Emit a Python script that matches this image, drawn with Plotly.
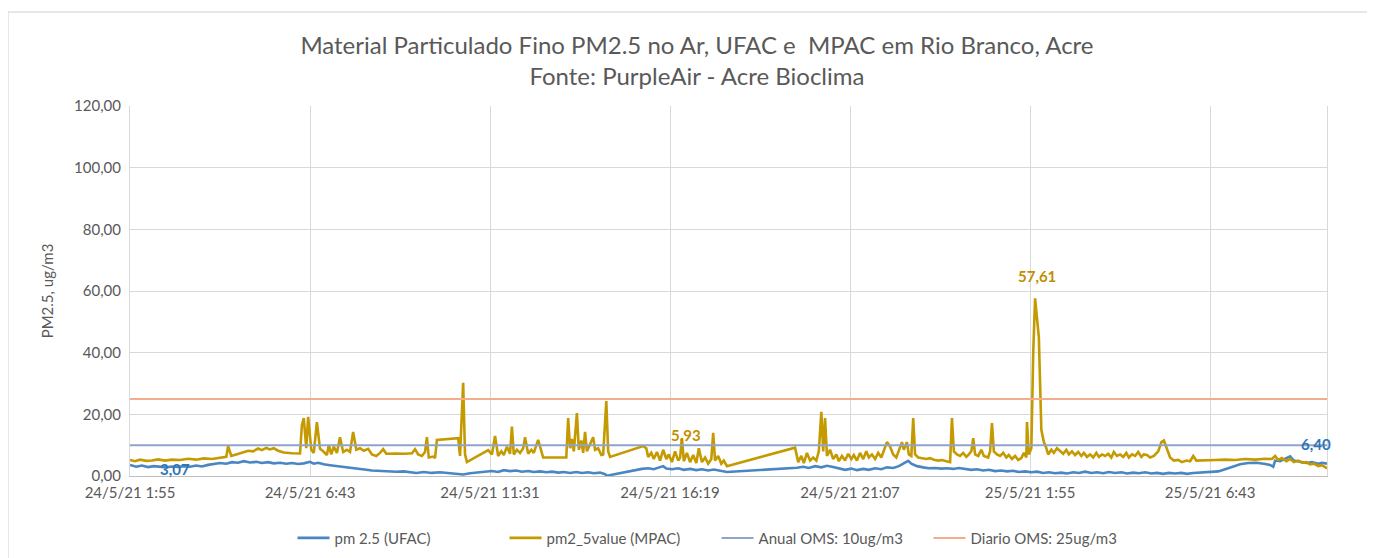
import pandas as pd
import plotly.graph_objects as go

# ---------------- data ----------------
start_time = "2021-05-24 01:55"

# pm2_5value (MPAC): minutes after start, value (ug/m3)
mpac_min = [0, 8, 16, 26, 35, 45, 56, 67, 80, 93, 106, 118, 131, 144, 154, 157, 162, 170, 179, 189,
            197, 205, 211, 218, 224, 230, 237, 246, 259, 272, 275, 278, 282, 285, 290, 294, 299, 304, 309, 315,
            318, 322, 326, 331, 336, 341, 347, 352, 357, 362, 368, 374, 381, 387, 394, 400, 405, 410, 424, 440,
            451, 456, 461, 467, 472, 475, 478, 485, 488, 491, 525, 528, 533, 536, 539, 573, 579, 584, 589, 594,
            598, 603, 608, 611, 614, 619, 624, 629, 632, 637, 642, 646, 653, 658, 661, 698, 701, 704, 707, 710,
            715, 718, 722, 725, 728, 731, 736, 741, 744, 749, 754, 757, 762, 765, 768, 821, 826, 829, 834, 838,
            843, 848, 853, 858, 862, 867, 872, 877, 880, 883, 886, 891, 896, 901, 906, 910, 915, 920, 925, 930,
            933, 936, 941, 946, 950, 955, 1064, 1069, 1074, 1078, 1083, 1088, 1093, 1098, 1102, 1106, 1109, 1112, 1115, 1120,
            1125, 1130, 1134, 1139, 1144, 1149, 1154, 1158, 1163, 1168, 1173, 1178, 1182, 1187, 1192, 1197, 1202, 1206, 1211, 1216,
            1221, 1226, 1230, 1235, 1238, 1243, 1246, 1250, 1253, 1256, 1261, 1267, 1274, 1280, 1286, 1293, 1299, 1306, 1312, 1315,
            1318, 1323, 1328, 1333, 1338, 1342, 1346, 1349, 1352, 1357, 1362, 1366, 1373, 1376, 1379, 1382, 1387, 1392, 1397, 1402,
            1406, 1411, 1416, 1421, 1426, 1430, 1434, 1435, 1438, 1442, 1445, 1448, 1451, 1454, 1458, 1462, 1466, 1469, 1474, 1478,
            1483, 1488, 1493, 1498, 1502, 1507, 1512, 1517, 1522, 1526, 1531, 1536, 1541, 1546, 1550, 1555, 1560, 1565, 1570, 1574,
            1579, 1584, 1589, 1594, 1598, 1603, 1608, 1613, 1618, 1622, 1627, 1632, 1638, 1645, 1650, 1654, 1659, 1664, 1670, 1677,
            1683, 1690, 1696, 1701, 1706, 1720, 1736, 1752, 1768, 1784, 1800, 1816, 1827, 1832, 1837, 1843, 1850, 1856, 1862, 1869,
            1875, 1882, 1888, 1894, 1901, 1907, 1915]
mpac_val = [5.2, 4.8, 5.3, 4.9, 5.0, 5.4, 5.0, 5.3, 5.2, 5.6, 5.3, 5.7, 5.5, 5.9, 6.2, 9.7, 6.5, 7.0, 7.5, 8.2,
            8.0, 8.9, 8.4, 9.1, 8.6, 9.0, 8.2, 7.6, 7.4, 7.3, 16.5, 18.8, 9.0, 19.2, 8.5, 7.5, 17.5, 8.8, 8.0, 6.8,
            10.0, 7.0, 9.5, 7.5, 12.6, 7.8, 8.5, 7.8, 14.3, 8.5, 9.0, 8.2, 8.8, 7.0, 6.5, 7.5, 8.7, 7.2, 7.3, 7.2,
            7.4, 8.7, 7.0, 6.5, 7.8, 12.6, 6.0, 6.3, 5.8, 11.7, 12.3, 6.5, 30.2, 7.0, 4.5, 8.4, 7.0, 13.0, 6.5, 8.0,
            6.8, 9.5, 7.2, 16.0, 7.0, 8.5, 7.5, 9.0, 12.6, 7.2, 8.5, 7.5, 11.7, 8.0, 6.0, 6.0, 18.8, 9.0, 12.0, 8.0,
            20.4, 8.5, 11.5, 7.5, 14.3, 8.0, 10.5, 12.6, 8.5, 9.0, 6.8, 7.0, 24.3, 8.0, 6.2, 9.7, 9.0, 6.2, 7.5, 5.5,
            7.8, 5.0, 8.5, 5.5, 7.0, 4.5, 8.0, 5.0, 5.93, 12.3, 4.8, 7.5, 4.5, 6.8, 4.2, 9.0, 4.5, 6.0, 4.0, 5.5,
            14.0, 5.0, 6.5, 4.0, 5.0, 3.2, 9.2, 4.5, 6.5, 4.2, 7.5, 5.0, 6.0, 5.0, 8.0, 20.8, 8.0, 18.8, 6.5, 8.5,
            5.5, 7.0, 4.8, 6.5, 5.0, 7.2, 5.5, 6.8, 5.0, 7.5, 5.5, 8.0, 6.0, 7.0, 5.5, 7.5, 6.0, 8.0, 11.0, 9.5,
            7.0, 6.0, 8.0, 11.0, 8.5, 11.0, 7.0, 6.5, 18.8, 7.0, 6.0, 5.8, 5.5, 5.8, 5.3, 5.0, 5.2, 4.8, 4.5, 18.8,
            8.0, 7.0, 6.5, 7.5, 6.2, 7.0, 8.0, 12.3, 7.0, 6.5, 8.5, 6.5, 6.0, 8.0, 17.2, 8.0, 7.0, 6.5, 7.5, 6.0,
            6.8, 5.5, 6.5, 5.2, 5.8, 7.5, 6.0, 17.5, 7.0, 9.0, 40.0, 57.61, 50.0, 45.0, 15.0, 11.0, 9.0, 7.0, 8.5, 7.5,
            9.0, 8.0, 7.2, 8.5, 7.0, 8.0, 6.8, 7.8, 6.5, 7.5, 6.2, 7.0, 6.0, 7.5, 6.2, 7.0, 6.5, 7.2, 6.0, 7.8,
            6.5, 7.0, 6.2, 7.5, 6.0, 7.0, 6.5, 7.8, 6.2, 7.0, 6.8, 6.0, 6.5, 8.0, 11.0, 11.5, 9.0, 6.0, 5.0, 5.2,
            4.5, 5.0, 4.8, 6.5, 5.0, 5.0, 5.2, 5.3, 5.2, 5.5, 5.3, 5.6, 5.5, 6.5, 5.2, 5.8, 4.8, 5.5, 4.5, 5.0,
            4.3, 4.5, 3.8, 4.0, 3.2, 3.5, 2.5]

# pm 2.5 (UFAC): minutes after start, value (ug/m3)
ufac_min = [0, 10, 19, 29, 38, 48, 58, 67, 77, 86, 96, 106, 115, 125, 134, 144, 154, 163, 173, 182,
            192, 202, 211, 221, 230, 240, 250, 259, 269, 278, 288, 294, 301, 310, 320, 330, 339, 349, 358, 368,
            378, 387, 400, 413, 426, 438, 448, 458, 470, 483, 496, 509, 522, 533, 544, 557, 570, 579, 589, 598,
            608, 618, 627, 637, 646, 656, 666, 675, 685, 694, 704, 714, 723, 733, 742, 752, 760, 763, 819, 829,
            838, 848, 853, 858, 867, 877, 886, 896, 906, 915, 925, 934, 944, 955, 1067, 1077, 1086, 1096, 1106, 1115,
            1125, 1134, 1144, 1154, 1163, 1173, 1182, 1192, 1202, 1211, 1221, 1230, 1240, 1245, 1250, 1259, 1269, 1278, 1288, 1298,
            1307, 1317, 1326, 1336, 1346, 1355, 1365, 1374, 1384, 1394, 1403, 1413, 1422, 1432, 1442, 1451, 1461, 1470, 1480, 1490,
            1499, 1509, 1518, 1528, 1538, 1547, 1557, 1566, 1576, 1586, 1595, 1605, 1614, 1624, 1634, 1643, 1653, 1662, 1672, 1682,
            1691, 1701, 1712, 1728, 1741, 1752, 1763, 1776, 1789, 1802, 1814, 1824, 1829, 1832, 1840, 1848, 1856, 1862, 1872, 1882,
            1891, 1901, 1907, 1915]
ufac_val = [3.6, 3.0, 3.4, 2.9, 3.2, 3.07, 2.8, 3.1, 2.9, 3.2, 3.0, 3.4, 3.1, 3.6, 3.8, 4.2, 4.0, 4.5, 4.3, 4.8,
            4.4, 4.6, 4.2, 4.5, 4.1, 4.3, 4.0, 4.2, 3.9, 4.1, 4.6, 4.0, 4.3, 3.8, 3.5, 3.2, 3.0, 2.7, 2.5, 2.3,
            2.0, 1.8, 1.6, 1.5, 1.4, 1.5, 1.2, 1.0, 1.3, 1.0, 1.2, 0.9, 0.8, 0.5, 0.9, 1.1, 1.4, 1.6, 1.3, 1.9,
            1.6, 1.8, 1.4, 1.6, 1.3, 1.5, 1.2, 1.4, 1.1, 1.3, 1.0, 1.3, 1.0, 1.2, 0.9, 1.1, 0.6, 0.1, 2.3, 2.5,
            2.2, 2.8, 3.2, 2.4, 2.2, 2.5, 2.0, 2.3, 1.9, 2.2, 1.8, 2.1, 1.7, 1.3, 2.7, 3.0, 2.6, 3.2, 2.8, 3.3,
            2.9, 2.5, 2.0, 2.4, 1.9, 2.3, 2.0, 2.5, 2.2, 2.8, 2.6, 3.2, 4.2, 4.9, 4.0, 3.2, 2.8, 2.5, 2.6, 2.4,
            2.5, 2.3, 2.6, 2.2, 2.0, 2.2, 1.8, 2.0, 1.6, 1.8, 1.5, 1.7, 1.3, 1.5, 1.2, 1.4, 1.0, 1.2, 0.9, 1.1,
            0.8, 1.2, 1.0, 1.4, 1.0, 1.2, 0.9, 1.3, 1.0, 1.2, 0.8, 1.1, 0.9, 1.2, 0.8, 1.0, 0.7, 1.0, 0.8, 1.0,
            0.7, 1.0, 1.1, 1.2, 1.5, 2.2, 3.0, 3.8, 4.2, 4.3, 4.0, 3.6, 3.0, 5.0, 4.8, 5.5, 6.40, 5.0, 4.6, 4.2,
            4.5, 4.0, 4.3, 4.0]

anual_oms = 10
diario_oms = 25

tick_times = ["2021-05-24 01:55", "2021-05-24 06:43", "2021-05-24 11:31", "2021-05-24 16:19",
              "2021-05-24 21:07", "2021-05-25 01:55", "2021-05-25 06:43"]
tick_labels = ["24/5/21 1:55", "24/5/21 6:43", "24/5/21 11:31", "24/5/21 16:19",
               "24/5/21 21:07", "25/5/21 1:55", "25/5/21 6:43"]
end_minutes = 1915

# labelled points: (series, minute of the point)
labels = [("ufac", 48), ("mpac", 880), ("mpac", 1448), ("ufac", 1856)]

# ---------------- build ----------------
base = pd.Timestamp(start_time)
mpac_x = base + pd.to_timedelta(mpac_min, unit="min")
ufac_x = base + pd.to_timedelta(ufac_min, unit="min")
x_end = base + pd.Timedelta(minutes=end_minutes)

BLUE = "#4A86C2"
GOLD = "#C49A00"
ANUAL = "#8FA3CC"
DIARIO = "#F2AE8C"
TXT = "#595959"
FONT = "Lato"

fig = go.Figure()
fig.add_trace(go.Scatter(x=ufac_x, y=ufac_val, mode="lines", name="pm 2.5 (UFAC)",
                         line=dict(color=BLUE, width=2.6)))
fig.add_trace(go.Scatter(x=mpac_x, y=mpac_val, mode="lines", name="pm2_5value (MPAC)",
                         line=dict(color=GOLD, width=2.6)))
fig.add_trace(go.Scatter(x=[base, x_end], y=[anual_oms, anual_oms], mode="lines",
                         name="Anual OMS: 10ug/m3", line=dict(color=ANUAL, width=2)))
fig.add_trace(go.Scatter(x=[base, x_end], y=[diario_oms, diario_oms], mode="lines",
                         name="Diario OMS: 25ug/m3", line=dict(color=DIARIO, width=2)))

label_style = [
    dict(xshift=15, yshift=-2, color="#2E75B6"),
    dict(xshift=6, yshift=23, color="#BF9000"),
    dict(xshift=2, yshift=22, color="#BF9000"),
    dict(xshift=26, yshift=12, color="#2E75B6"),
]
for (s, m), st in zip(labels, label_style):
    mins, xs, ys = (ufac_min, ufac_x, ufac_val) if s == "ufac" else (mpac_min, mpac_x, mpac_val)
    i = mins.index(m)
    fig.add_annotation(x=xs[i], y=ys[i], text="<b>" + f"{ys[i]:.2f}".replace(".", ",") + "</b>",
                       showarrow=False, xshift=st["xshift"], yshift=st["yshift"],
                       font=dict(family=FONT, size=15, color=st["color"]))

# outer chart border
fig.add_shape(type="rect", xref="paper", yref="paper", x0=-0.1019, x1=1.0368, y0=-0.23, y1=1.254,
              line=dict(color="#D0D0D0", width=1), fillcolor="rgba(0,0,0,0)", layer="below")

fig.update_layout(
    width=1367, height=550,
    margin=dict(l=122, r=48, t=98, b=82, autoexpand=False),
    paper_bgcolor="white", plot_bgcolor="white",
    separators=",.",
    font=dict(family=FONT, color=TXT, size=15),
    title=dict(text="Material Particulado Fino PM2.5 no Ar, UFAC e  MPAC em Rio Branco, Acre<br>Fonte: PurpleAir - Acre Bioclima",
               x=0.504, xanchor="center", y=0.917, yanchor="top",
               font=dict(family=FONT, size=24, color=TXT)),
    xaxis=dict(type="date", range=[base, x_end], tickvals=tick_times, ticktext=tick_labels,
               showgrid=True, gridcolor="#D9D9D9", gridwidth=1, automargin=False,
               showline=True, linecolor="#BFBFBF", linewidth=1, ticks="", ticklabelstandoff=3,
               tickfont=dict(family=FONT, size=15, color=TXT), zeroline=False),
    yaxis=dict(range=[0, 120], dtick=20, tickformat=".2f", automargin=False,
               showgrid=True, gridcolor="#D9D9D9", gridwidth=1, ticklabelstandoff=5,
               showline=True, linecolor="#D9D9D9", mirror=True, zeroline=False, ticks="",
               tickfont=dict(family=FONT, size=15, color=TXT),
               title=dict(text="PM2.5, ug/m3", font=dict(family=FONT, size=15, color=TXT), standoff=16)),
    legend=dict(orientation="h", x=0.49, xanchor="center", y=-0.168, yanchor="middle",
                font=dict(family=FONT, size=15, color=TXT), itemwidth=32, entrywidth=165,
                entrywidthmode="pixels", bgcolor="rgba(0,0,0,0)"),
    showlegend=True,
)

fig.write_html("out.html")
